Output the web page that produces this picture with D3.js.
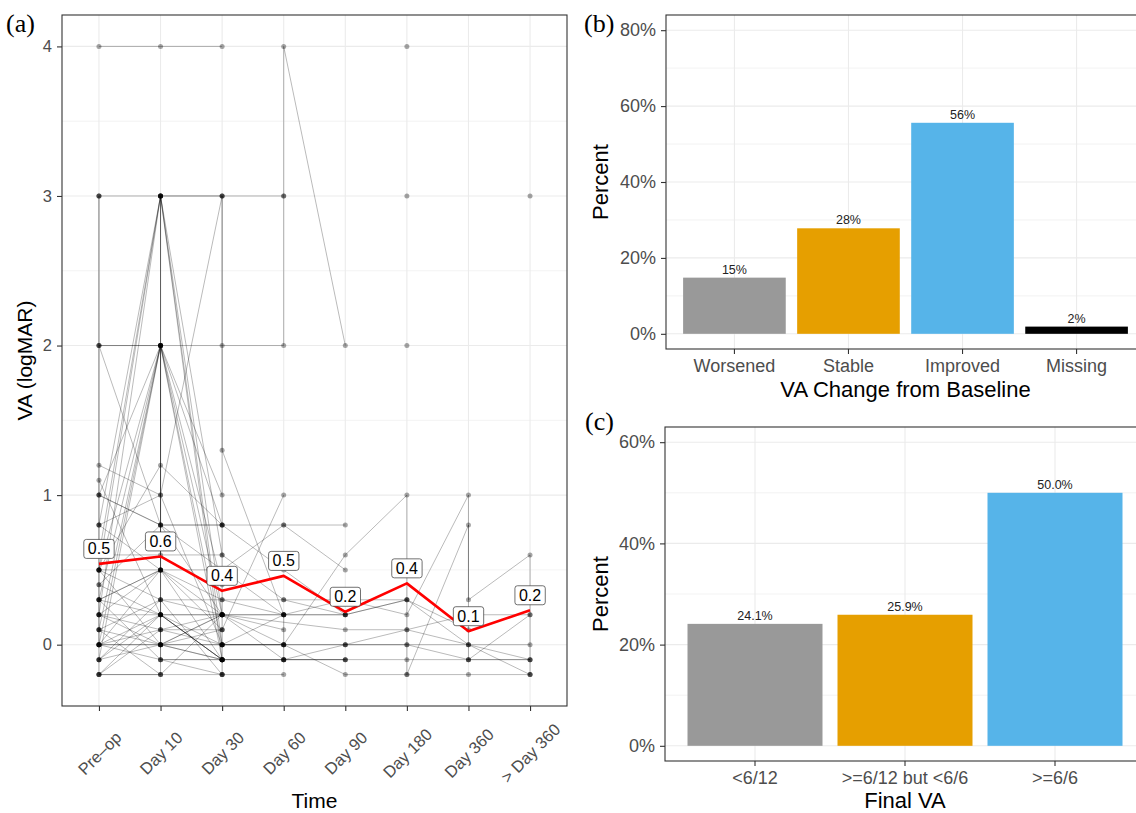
<!DOCTYPE html>
<html>
<head>
<meta charset="utf-8">
<script src="https://cdn.jsdelivr.net/npm/d3@7"></script>
<style>
  body { margin: 0; background: #fff; }
  svg { display: block; font-family: "Liberation Sans", Arial, sans-serif; }
</style>
</head>
<body>
<svg width="1136" height="813"></svg>
<script>
// ---- data ----
const times = ['Pre–op', 'Day 10', 'Day 30', 'Day 60', 'Day 90', 'Day 180', 'Day 360', '> Day 360'];
const vaTicks = [0, 1, 2, 3, 4];
const vaMinor = [0.5, 1.5, 2.5, 3.5];
const meanVA = [0.54, 0.59, 0.36, 0.46, 0.22, 0.41, 0.09, 0.23];
const meanLabels = ['0.5', '0.6', '0.4', '0.5', '0.2', '0.4', '0.1', '0.2'];

// one entry per eye: [time index, logMAR]
const patients = [
    [[0, 4], [1, 4], [2, 4]],
    [[0, 3], [1, 3], [2, 3], [3, 3], [3, 4], [4, 2]],
    [[0, 2], [1, 2], [2, 2], [3, 2], [3, 3]],
    [[0, 3], [0, -0.2], [1, -0.2], [1, 3], [2, 3], [2, -0.2]],
    [[0, 3], [0, 0], [1, 0.5], [1, 3], [1, -0.1], [2, -0.1]],
    [[0, 2], [1, 2], [1, 0], [2, 0.2]],
    [[0, 0.8], [1, 3], [2, -0.1]],
    [[0, 0.5], [1, 3], [2, 0.2]],
    [[0, 0.2], [1, 3], [2, 0.6]],
    [[0, 0.6], [1, 3], [2, 0]],
    [[0, 1], [1, 2], [2, 0]],
    [[0, 0.3], [1, 2], [2, -0.1]],
    [[0, 0], [1, 2], [2, 0.2]],
    [[0, 0.1], [1, 2], [2, 0.4]],
    [[0, -0.1], [1, 2], [2, 1]],
    [[0, 0.5], [1, 2], [2, 0.8]],
    [[0, 1.2], [1, 1], [2, 3], [2, 1.3], [3, 0.2]],
    [[0, 2], [1, 0.8], [2, 0.2]],
    [[0, 1.1], [1, 0.2], [2, -0.1]],
    [[0, 1], [1, 0.8], [2, 0.8], [3, 0.8], [4, 0.8]],
    [[0, 0.8], [1, 0.5], [2, 0.2], [3, 0.2], [4, 0.2], [5, 0.3], [6, 0.1]],
    [[0, 0.6], [1, 0.6], [2, 0.6], [3, 0.3], [4, 0.2]],
    [[0, 0.5], [1, 0.3], [2, 0.3], [3, 0.3], [4, 0.3], [5, 0.3]],
    [[0, 0.4], [1, 0.2], [2, 0], [3, 0], [4, 0], [5, 0], [6, 0], [7, -0.1]],
    [[0, 0.3], [1, 0.5], [2, -0.1], [3, -0.1], [4, -0.1]],
    [[0, 0.2], [1, 0], [2, 0], [3, 0.2], [3, -0.1], [4, -0.1]],
    [[0, 0.1], [1, 0.3], [2, -0.2]],
    [[0, -0.1], [1, 0.2], [2, -0.1]],
    [[0, -0.2], [1, 0.2], [2, 0.2], [3, 0]],
    [[0, 0], [1, -0.1], [2, -0.2]],
    [[0, -0.1], [1, 0], [2, 0.1]],
    [[0, 0.5], [1, 0], [2, -0.1]],
    [[0, 0.2], [1, 0.5], [2, 0.1]],
    [[0, 0], [1, 0.1], [2, 0.2], [3, 0.1]],
    [[0, 0.3], [1, -0.1], [2, -0.1]],
    [[0, 0.2], [1, 0.2], [2, -0.1]],
    [[0, -0.2], [1, -0.2], [2, -0.2], [3, -0.2]],
    [[0, 0.1], [1, -0.2], [2, 0.2]],
    [[0, 0.4], [1, 0.8], [2, 0.8], [3, 0.5], [4, 0.2]],
    [[0, -0.1], [1, 0.3], [2, 0.2], [3, -0.1]],
    [[0, 0], [1, 0.2], [2, -0.1], [3, -0.1], [4, -0.1], [5, -0.1], [6, -0.1], [7, -0.1]],
    [[0, 0.5], [1, 1.2], [2, 0.8]],
    [[0, 0.3], [1, 0.5], [2, 0.5], [3, 0.2]],
    [[0, 0.2], [1, 0.1], [2, 0.1], [3, 1]],
    [[0, 1], [1, 0.8], [2, 0.5], [3, 0.8], [4, 0.5]],
    [[0, 0.8], [1, 1], [2, 0], [3, 0], [4, 0], [5, 0.1], [6, 0], [7, -0.2]],
    [[0, 0], [1, 0], [2, 0.2], [4, 0.1], [5, 0.1], [6, 0.2], [7, 0.2]],
    [[0, 0.3], [1, 0.2], [2, 0.2], [3, 0.2], [4, 0.3], [5, 0.2], [6, 1], [6, 0.3], [7, 0.6], [7, -0.2]],
    [[0, 0.1], [1, 0], [2, -0.1], [3, -0.1], [4, 0], [5, 0], [6, -0.1], [7, -0.1]],
    [[0, 0], [1, 0], [2, 0], [3, 0], [4, -0.2], [5, -0.2], [6, -0.2], [7, -0.2]],
    [[0, 0.5], [1, 0.5], [2, 0.3], [3, 0.2], [4, 0.2], [5, 0.3], [6, 0], [7, 0]],
    [[0, -0.2], [1, 0.1], [2, 0], [3, 0], [4, 0.6], [5, 1], [5, -0.2], [6, 0.8], [6, -0.1], [7, 0.2]],
    [[5, 4]],
    [[5, 3]],
    [[7, 3]],
    [[5, 2]]
];

const changeCats = ['Worsened', 'Stable', 'Improved', 'Missing'];
const changePct = [14.8, 27.8, 55.6, 1.9];
const changeLabels = ['15%', '28%', '56%', '2%'];
const changeTicks = [0, 20, 40, 60, 80];
const changeMinor = [10, 30, 50, 70];

const finalCats = ['<6/12', '>=6/12 but <6/6', '>=6/6'];
const finalPct = [24.1, 25.9, 50.0];
const finalLabels = ['24.1%', '25.9%', '50.0%'];
const finalTicks = [0, 20, 40, 60];
const finalMinor = [10, 30, 50];

const barColors = ['#999999', '#E69F00', '#56B4E9', '#000000'];

// ---- drawing ----
const svg = d3.select('svg');
const FONT = '"Liberation Sans", Arial, sans-serif';
const gridCol = '#ebebeb';

function styleAxis(g, size) {
    g.attr('font-size', size).attr('font-family', FONT);
    g.select('.domain').remove();
    g.selectAll('.tick line').attr('stroke', '#333').attr('stroke-width', 1.1);
    g.selectAll('.tick text').attr('fill', '#4d4d4d');
}

function hGrid(g, scale, vals, x0, x1, w) {
    g.selectAll(null).data(vals).join('line')
        .attr('x1', x0).attr('x2', x1)
        .attr('y1', (d) => scale(d)).attr('y2', (d) => scale(d))
        .attr('stroke', gridCol).attr('stroke-width', w);
}

function vGrid(g, xs, y0, y1) {
    g.selectAll(null).data(xs).join('line')
        .attr('x1', (d) => d).attr('x2', (d) => d)
        .attr('y1', y0).attr('y2', y1)
        .attr('stroke', gridCol).attr('stroke-width', 1.1);
}

function border(p) {
    svg.append('rect')
        .attr('x', p.l).attr('y', p.t)
        .attr('width', p.r - p.l).attr('height', p.b - p.t)
        .attr('fill', 'none').attr('stroke', '#333').attr('stroke-width', 1.1);
}

function tag(text, x, y) {
    svg.append('text').attr('x', x).attr('y', y)
        .attr('font-family', '"Liberation Serif", "Times New Roman", serif')
        .attr('font-size', 26).text(text);
}

function yTitle(text, x, y, size) {
    svg.append('text')
        .attr('transform', 'translate(' + x + ',' + y + ') rotate(-90)')
        .attr('text-anchor', 'middle').attr('font-size', size).text(text);
}

// Panel (a): VA over time
const A = { l: 62, r: 567, t: 15, b: 706 };
const xA = d3.scalePoint().domain(times).range([A.l, A.r]).padding(0.6);
const yA = d3.scaleLinear().domain([-0.41, 4.21]).range([A.b, A.t]);

const ga = svg.append('g');
hGrid(ga, yA, vaMinor, A.l, A.r, 0.6);
hGrid(ga, yA, vaTicks, A.l, A.r, 1.1);
vGrid(ga, times.map((d) => xA(d)), A.t, A.b);

const eyeLine = d3.line()
    .x((d) => xA(times[d[0]]))
    .y((d) => yA(d[1]));

ga.selectAll('path.eye').data(patients).join('path')
    .attr('class', 'eye')
    .attr('d', eyeLine)
    .attr('fill', 'none')
    .attr('stroke', '#000')
    .attr('stroke-opacity', 0.3)
    .attr('stroke-width', 0.9);

ga.selectAll('circle').data(patients.flat()).join('circle')
    .attr('cx', (d) => xA(times[d[0]]))
    .attr('cy', (d) => yA(d[1]))
    .attr('r', 2.5)
    .attr('fill', '#000')
    .attr('fill-opacity', 0.35);

const meanLine = d3.line()
    .x((d, i) => xA(times[i]))
    .y((d) => yA(d));

ga.append('path')
    .attr('d', meanLine(meanVA))
    .attr('fill', 'none')
    .attr('stroke', '#ff0000')
    .attr('stroke-width', 2.6)
    .attr('stroke-linejoin', 'round');

// mean labels
meanVA.forEach((m, i) => {
    const lg = ga.append('g')
        .attr('transform', 'translate(' + xA(times[i]) + ',' + (yA(m) - 15) + ')');
    const rect = lg.append('rect');
    const t = lg.append('text')
        .attr('text-anchor', 'middle')
        .attr('dominant-baseline', 'central')
        .attr('font-size', 16)
        .attr('fill', '#000')
        .text(meanLabels[i]);
    const bb = t.node().getBBox();
    rect.attr('x', bb.x - 4).attr('y', -9.5)
        .attr('width', bb.width + 8).attr('height', 19)
        .attr('rx', 2.5)
        .attr('fill', '#fff').attr('stroke', '#333').attr('stroke-width', 0.7);
});

border(A);

svg.append('g')
    .attr('transform', 'translate(' + A.l + ',0)')
    .call(d3.axisLeft(yA).tickValues(vaTicks).tickSize(5).tickPadding(5).tickFormat(d3.format('d')))
    .call((g) => styleAxis(g, 16.5));

svg.append('g')
    .attr('transform', 'translate(0,' + A.b + ')')
    .call(d3.axisBottom(xA).tickSize(5))
    .call((g) => styleAxis(g, 16.5))
    .call((g) => g.selectAll('.tick text')
        .attr('y', 0).attr('dy', null)
        .attr('transform', 'translate(0,47) rotate(-45)')
        .attr('text-anchor', 'middle')
        .attr('dominant-baseline', 'central'));

svg.append('text').attr('x', (A.l + A.r) / 2).attr('y', 808)
    .attr('text-anchor', 'middle').attr('font-size', 21).text('Time');
yTitle('VA (logMAR)', 32, (A.t + A.b) / 2, 21);
tag('(a)', 6, 32);

// Bar panel helper for (b) and (c)
function barPanel(P, cats, vals, labels, ticks, minor, yDomain, xTitle, titleY) {
    const x = d3.scaleBand().domain(cats).range([P.l, P.r]).paddingInner(0.1).paddingOuter(0.15);
    const y = d3.scaleLinear().domain(yDomain).range([P.b, P.t]);
    const g = svg.append('g');

    hGrid(g, y, minor, P.l, P.r, 0.6);
    hGrid(g, y, ticks, P.l, P.r, 1.1);
    vGrid(g, cats.map((d) => x(d) + x.bandwidth() / 2), P.t, P.b);

    g.selectAll('rect.bar').data(vals).join('rect')
        .attr('class', 'bar')
        .attr('x', (d, i) => x(cats[i]))
        .attr('y', (d) => y(d))
        .attr('width', x.bandwidth())
        .attr('height', (d) => y(0) - y(d))
        .attr('fill', (d, i) => barColors[i]);

    g.selectAll('text.val').data(vals).join('text')
        .attr('class', 'val')
        .attr('x', (d, i) => x(cats[i]) + x.bandwidth() / 2)
        .attr('y', (d) => y(d) - 4)
        .attr('text-anchor', 'middle')
        .attr('font-size', 12.5)
        .attr('fill', '#222')
        .text((d, i) => labels[i]);

    border(P);

    svg.append('g')
        .attr('transform', 'translate(' + P.l + ',0)')
        .call(d3.axisLeft(y).tickValues(ticks).tickSize(5).tickPadding(5).tickFormat((d) => d + '%'))
        .call((a) => styleAxis(a, 18));

    svg.append('g')
        .attr('transform', 'translate(0,' + P.b + ')')
        .call(d3.axisBottom(x).tickSize(5).tickPadding(5))
        .call((a) => styleAxis(a, 18));

    svg.append('text').attr('x', (P.l + P.r) / 2).attr('y', titleY)
        .attr('text-anchor', 'middle').attr('font-size', 22).text(xTitle);
    yTitle('Percent', 608, (P.t + P.b) / 2, 22);
}

barPanel({ l: 666, r: 1145, t: 15, b: 349 }, changeCats, changePct, changeLabels,
    changeTicks, changeMinor, [-4, 84], 'VA Change from Baseline', 397);
tag('(b)', 584, 32);

barPanel({ l: 665, r: 1145, t: 427, b: 761 }, finalCats, finalPct, finalLabels,
    finalTicks, finalMinor, [-3, 63], 'Final VA', 808);
tag('(c)', 585, 430);
</script>
</body>
</html>
